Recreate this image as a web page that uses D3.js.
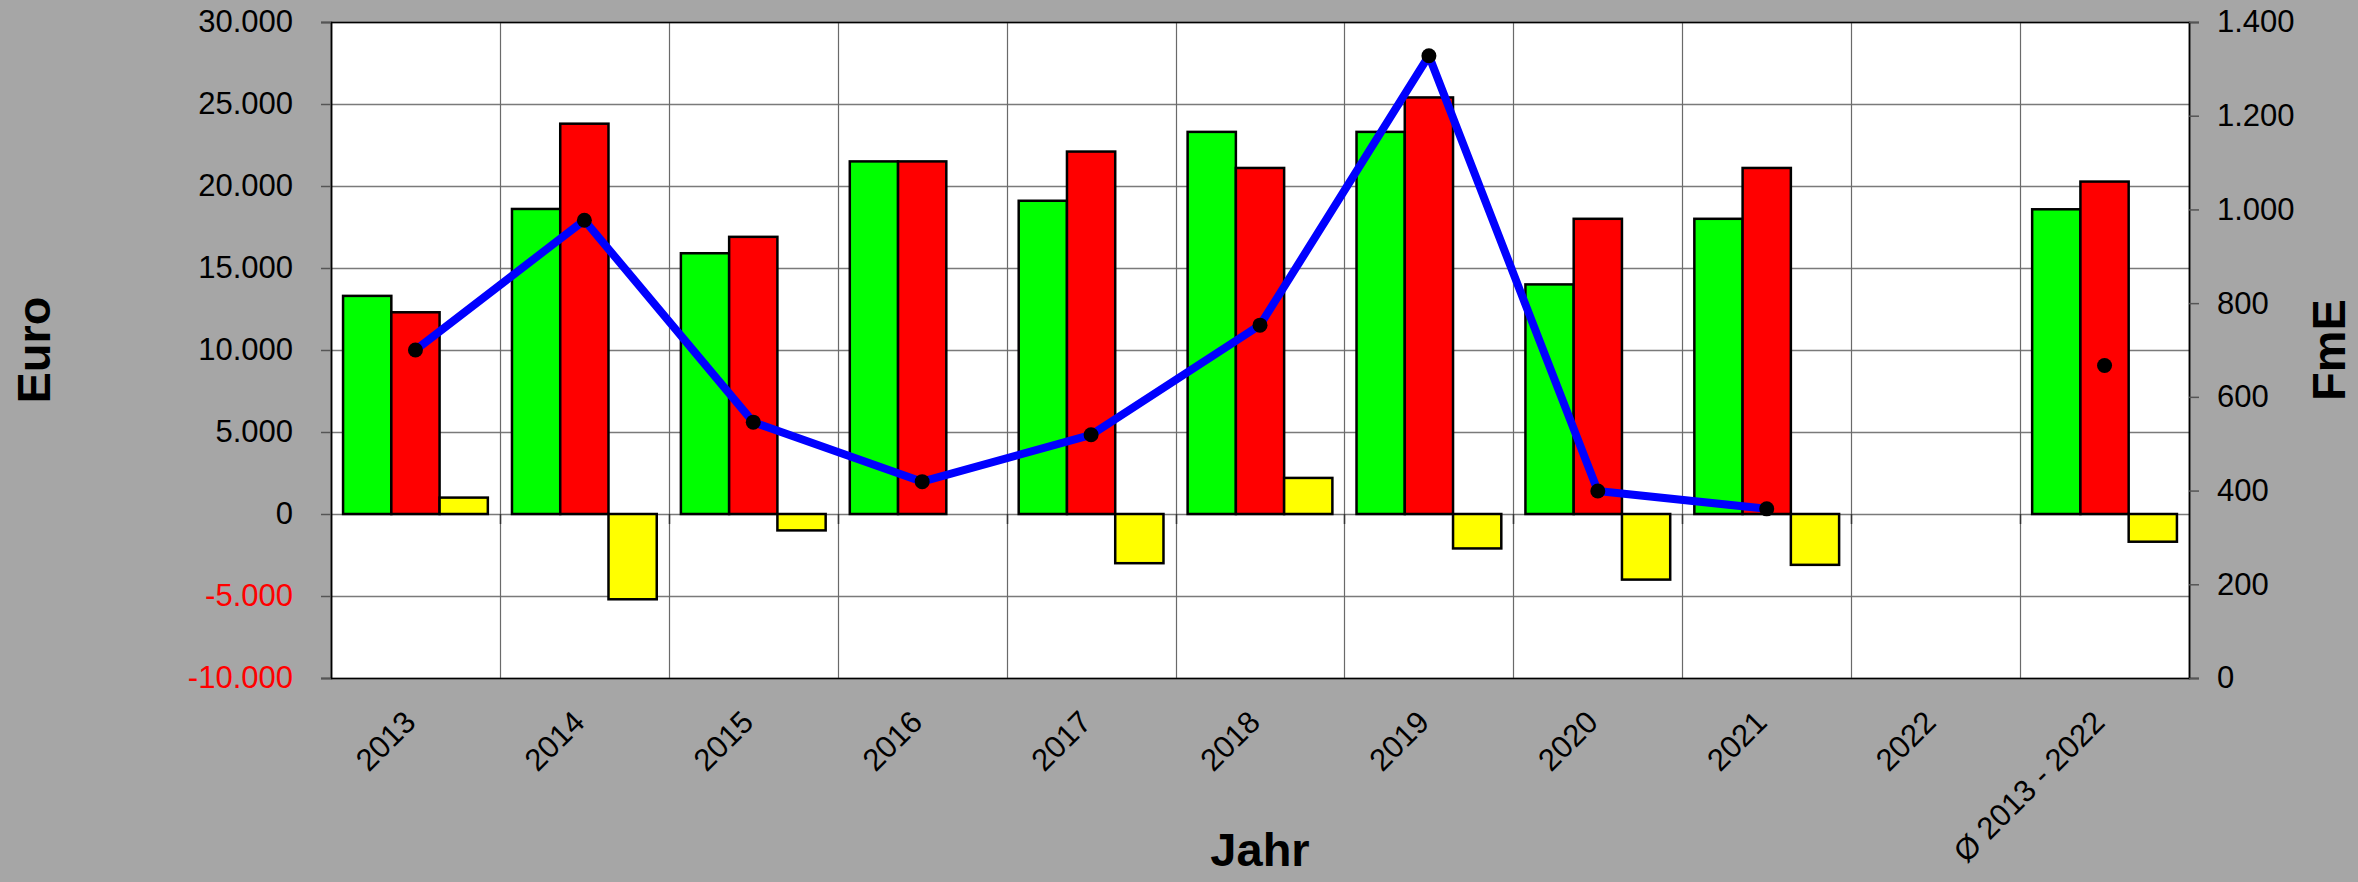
<!DOCTYPE html>
<html>
<head>
<meta charset="utf-8">
<script src="https://cdn.jsdelivr.net/npm/d3@7"></script>
<style>
  body { margin: 0; background: #a6a6a6; }
  svg { display: block; font-family: "Liberation Sans", Arial, sans-serif; }
</style>
</head>
<body>
<div id="chart"></div>
<script>
// data
var years = ["2013", "2014", "2015", "2016", "2017", "2018", "2019", "2020", "2021", "2022", "Ø 2013 - 2022"];
var einnahmen = [13300, 18600, 15900, 21500, 19100, 23300, 23300, 14000, 18000, null, 18580];
var ausgaben = [12300, 23800, 16900, 21500, 22100, 21100, 25400, 18000, 21100, null, 20270];
var saldo = [1000, -5200, -1000, 0, -3000, 2200, -2100, -4000, -3100, null, -1690];
var fme = [700, 977, 546, 419, 519, 753, 1328, 399, 361, null, 667];
var euroTicks = [-10000, -5000, 0, 5000, 10000, 15000, 20000, 25000, 30000];
var fmeTicks = [0, 200, 400, 600, 800, 1000, 1200, 1400];

var svgWidth = 2358;
var svgHeight = 882;

var margin = { top: 22, right: 169, bottom: 204, left: 331 };
var width = svgWidth - margin.left - margin.right;
var height = svgHeight - margin.top - margin.bottom;

var de = d3.formatLocale({ decimal: ",", thousands: ".", grouping: [3], currency: ["", " €"], minus: "-" });
var fmt = de.format(",.0f");

var svg = d3.select("#chart")
  .append("svg")
  .attr("width", svgWidth)
  .attr("height", svgHeight);

svg.append("rect")
  .attr("width", svgWidth)
  .attr("height", svgHeight)
  .attr("fill", "#a6a6a6");

var chartGroup = svg.append("g")
  .attr("transform", `translate(${margin.left}, ${margin.top})`);

// scales
var xScale = d3.scaleBand()
  .domain(years)
  .range([0, width])
  .padding(0);

var xInner = d3.scaleBand()
  .domain(["ein", "aus", "saldo"])
  .range([0, xScale.bandwidth()])
  .paddingInner(0)
  .paddingOuter(0.25);

var yLeft = d3.scaleLinear()
  .domain([-10000, 30000])
  .range([height, 0]);

var yRight = d3.scaleLinear()
  .domain([0, 1400])
  .range([height, 0]);

// plot area
chartGroup.append("rect")
  .attr("width", width)
  .attr("height", height)
  .attr("fill", "white");

// horizontal grid
chartGroup.append("g")
  .selectAll("line")
  .data(euroTicks)
  .enter()
  .append("line")
  .attr("x1", 0)
  .attr("x2", width)
  .attr("y1", d => yLeft(d) + 0.5)
  .attr("y2", d => yLeft(d) + 0.5)
  .attr("stroke", "#7a7a7a")
  .attr("stroke-width", 1.5);

// vertical grid between categories
var bounds = years.slice(1).map(d => xScale(d));
chartGroup.append("g")
  .selectAll("line")
  .data(bounds)
  .enter()
  .append("line")
  .attr("x1", d => Math.round(d) + 0.5)
  .attr("x2", d => Math.round(d) + 0.5)
  .attr("y1", 0)
  .attr("y2", height)
  .attr("stroke", "#6a6a6a")
  .attr("stroke-width", 1.2);

// bars
var series = [
  { key: "ein", values: einnahmen, color: "#00ff00" },
  { key: "aus", values: ausgaben, color: "#ff0000" },
  { key: "saldo", values: saldo, color: "#ffff00" }
];

series.forEach(function(s) {
  var rows = years.map((y, i) => ({ year: y, value: s.values[i] }))
    .filter(d => d.value !== null && d.value !== 0);
  chartGroup.append("g")
    .selectAll("rect")
    .data(rows)
    .enter()
    .append("rect")
    .attr("x", d => xScale(d.year) + xInner(s.key))
    .attr("width", xInner.bandwidth())
    .attr("y", d => yLeft(Math.max(0, d.value)))
    .attr("height", d => Math.abs(yLeft(d.value) - yLeft(0)))
    .attr("fill", s.color)
    .attr("stroke", "black")
    .attr("stroke-width", 2.5);
});

// small category ticks on the zero line
chartGroup.append("g")
  .selectAll("line")
  .data(bounds)
  .enter()
  .append("line")
  .attr("x1", d => Math.round(d) + 0.5)
  .attr("x2", d => Math.round(d) + 0.5)
  .attr("y1", yLeft(0))
  .attr("y2", yLeft(0) + 10)
  .attr("stroke", "#333")
  .attr("stroke-width", 1.5);

// FmE line
var linePts = years.map((y, i) => ({ year: y, value: fme[i] }));
var line = d3.line()
  .defined(d => d.value !== null)
  .x(d => xScale(d.year) + xScale.bandwidth() / 2)
  .y(d => yRight(d.value));

chartGroup.append("path")
  .datum(linePts)
  .attr("d", line)
  .attr("fill", "none")
  .attr("stroke", "#0000ff")
  .attr("stroke-width", 8)
  .attr("stroke-linejoin", "round");

chartGroup.append("g")
  .selectAll("circle")
  .data(linePts.filter(d => d.value !== null))
  .enter()
  .append("circle")
  .attr("cx", d => xScale(d.year) + xScale.bandwidth() / 2)
  .attr("cy", d => yRight(d.value))
  .attr("r", 7.5)
  .attr("fill", "black");

// plot border
chartGroup.append("rect")
  .attr("x", 0.5)
  .attr("y", 0.5)
  .attr("width", width)
  .attr("height", height)
  .attr("fill", "none")
  .attr("stroke", "black")
  .attr("stroke-width", 1.5);

// axes
var leftAxis = d3.axisLeft(yLeft)
  .tickValues(euroTicks)
  .tickFormat(fmt)
  .tickSize(10)
  .tickPadding(28);

var la = chartGroup.append("g")
  .call(leftAxis);
la.select(".domain").attr("stroke", "black").attr("stroke-width", 1.5);
la.selectAll(".tick line").attr("stroke", "#555").attr("stroke-width", 1.5);
la.selectAll("text")
  .attr("font-size", 31)
  .attr("font-family", "Liberation Sans, Arial, sans-serif")
  .attr("fill", d => d < 0 ? "#ff0000" : "black");

var rightAxis = d3.axisRight(yRight)
  .tickValues(fmeTicks)
  .tickFormat(fmt)
  .tickSize(10)
  .tickPadding(18);

var ra = chartGroup.append("g")
  .attr("transform", `translate(${width}, 0)`)
  .call(rightAxis);
ra.select(".domain").attr("stroke", "black").attr("stroke-width", 1.5);
ra.selectAll(".tick line").attr("stroke", "#555").attr("stroke-width", 1.5);
ra.selectAll("text")
  .attr("font-size", 31)
  .attr("font-family", "Liberation Sans, Arial, sans-serif")
  .attr("fill", "black");

var bottomAxis = d3.axisBottom(xScale).tickSize(0);
var ba = chartGroup.append("g")
  .attr("transform", `translate(0, ${height})`)
  .call(bottomAxis);
ba.select(".domain").remove();
ba.selectAll("text")
  .attr("x", 0)
  .attr("y", 0)
  .attr("dy", 0)
  .attr("transform", "translate(2, 46) rotate(-45)")
  .style("text-anchor", "end")
  .attr("font-size", 31)
  .attr("font-family", "Liberation Sans, Arial, sans-serif")
  .attr("fill", "black");

// axis titles
chartGroup.append("text")
  .attr("transform", `translate(${50 - margin.left}, ${height / 2}) rotate(-90)`)
  .attr("text-anchor", "middle")
  .attr("font-size", 47)
  .attr("font-weight", "bold")
  .attr("fill", "black")
  .text("Euro");

chartGroup.append("text")
  .attr("transform", `translate(${width + 156}, ${height / 2}) rotate(-90)`)
  .attr("text-anchor", "middle")
  .attr("font-size", 47)
  .attr("font-weight", "bold")
  .attr("fill", "black")
  .text("FmE");

chartGroup.append("text")
  .attr("x", width / 2)
  .attr("y", 866 - margin.top)
  .attr("text-anchor", "middle")
  .attr("font-size", 47)
  .attr("font-weight", "bold")
  .attr("fill", "black")
  .text("Jahr");
</script>
</body>
</html>
